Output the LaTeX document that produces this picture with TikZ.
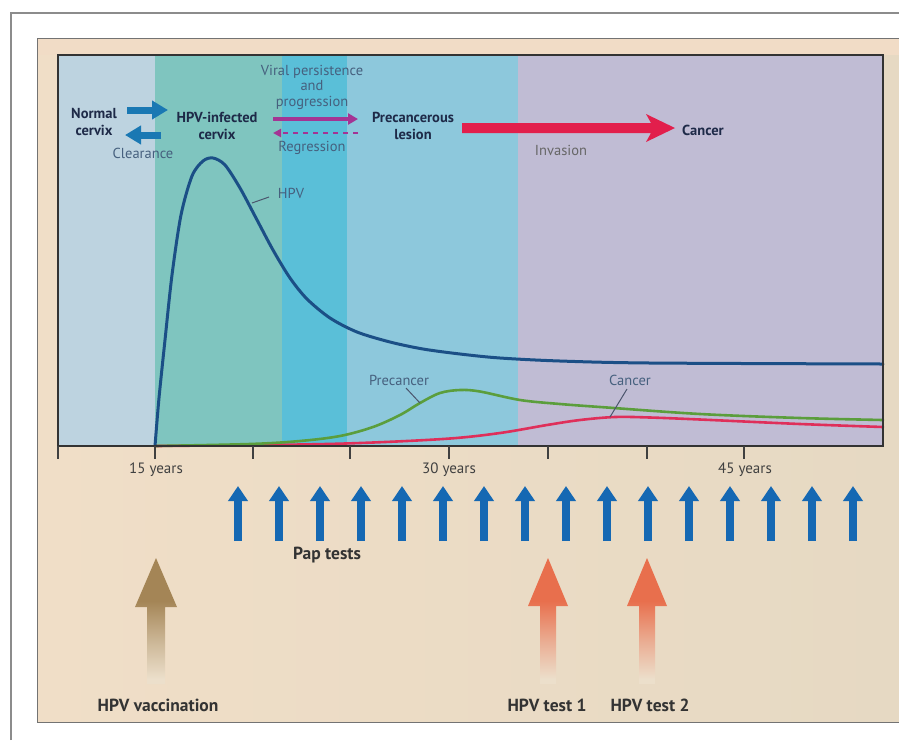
\documentclass[tikz,border=0pt]{standalone}
\usepackage{fontspec}
\setmainfont{PT Sans}
\usetikzlibrary{arrows.meta}
\definecolor{bandA}{HTML}{BDD3E0}
\definecolor{bandB}{HTML}{7FC5BF}
\definecolor{bandC}{HTML}{5ABFD8}
\definecolor{bandD}{HTML}{8DC8DC}
\definecolor{bandE}{HTML}{C0BCD4}
\definecolor{beigeL}{HTML}{F0DEC7}
\definecolor{beigeR}{HTML}{E6D9C3}
\definecolor{beigeT}{HTML}{F1DCC6}
\definecolor{hpvblue}{HTML}{1B4F86}
\definecolor{precgreen}{HTML}{5B9E3C}
\definecolor{cancred}{HTML}{DF2F5A}
\definecolor{papblue}{HTML}{1568B3}
\definecolor{topblue}{HTML}{1A78B3}
\definecolor{magarrow}{HTML}{A43494}
\definecolor{redarrow}{HTML}{E21F4C}
\definecolor{softtext}{HTML}{46607E}
\definecolor{darktext}{HTML}{1E2A48}
\definecolor{vacc}{HTML}{A48556}
\definecolor{hpvtest}{HTML}{E86F4D}
\definecolor{fadebg}{HTML}{ECDFCB}
\pgfdeclareverticalshading{vaccfade}{100bp}{color(0bp)=(fadebg); color(27bp)=(fadebg); color(42bp)=(vacc!45!fadebg); color(58bp)=(vacc); color(100bp)=(vacc)}
\pgfdeclareverticalshading{testfade}{100bp}{color(0bp)=(fadebg); color(27bp)=(fadebg); color(42bp)=(hpvtest!45!fadebg); color(58bp)=(hpvtest); color(100bp)=(hpvtest)}
\begin{document}
\begin{tikzpicture}[x=1pt,y=-1pt,
  boldlbl/.style={font=\bfseries\fontsize{14.5}{17.5}\selectfont, text=darktext, align=center, inner sep=0pt},
  softlbl/.style={font=\fontsize{14.5}{15.5}\selectfont, text=softtext, align=center, inner sep=0pt},
  ticklbl/.style={font=\fontsize{15}{17}\selectfont, text=black!75, inner sep=0pt},
  bottomlbl/.style={font=\bfseries\fontsize{17.5}{20}\selectfont, text=black!80, inner sep=0pt},
  curve/.style={line width=2.6pt, line cap=round},
  leader/.style={line width=1pt, draw=darktext!80},
  papstyle/.style={line width=8pt, draw=papblue, -{Triangle[length=15pt,width=19pt]}}
]
\useasboundingbox (0,0) rectangle (899,740);
\fill[white] (0,0) rectangle (899,740);
% outer frame
\draw[black!45, line width=1.2pt] (11,740) -- (11,13) -- (899,13);
% beige panel
\shade[left color=beigeL, right color=beigeR] (37,38) rectangle (899,722);
\fill[beigeT] (37,38) rectangle (899,55);
\draw[black!55, line width=1pt] (899,38) -- (37,38) -- (37,722) -- (899,722);
% bands
\fill[bandA] (58,55) rectangle (155,446);
\fill[bandB] (155,55) rectangle (282,446);
\fill[bandC] (282,55) rectangle (347,446);
\fill[bandD] (347,55) rectangle (518,446);
\fill[bandE] (518,55) rectangle (883,446);
% curves
\draw[curve, draw=cancred] plot[smooth, tension=0.55] coordinates {(155,446) (300,444.5) (373,442.5) (450,438.5) (500,433) (547,425) (580,420) (615,417) (650,417.5) (700,419.5) (800,424) (883,427)};
\draw[curve, draw=precgreen] plot[smooth, tension=0.55] coordinates {(155,446) (250,444) (300,441) (340,436) (373,427) (400,415) (420,403) (440,393) (460,390) (480,391.5) (520,400) (560,404) (607,407.5) (700,414) (800,418) (883,420)};
\draw[curve, line width=3pt, draw=hpvblue] plot[smooth, tension=0.5] coordinates {(155,446) (159,398) (165,340) (172,275) (181,215) (192,176) (203,161) (213,158) (225,165) (240,188) (256,218) (273,250) (290,278) (307,299) (330,318) (357,332) (390,342) (423,349) (460,354) (500,358) (560,361) (650,363) (883,364)};
% chart frame
\draw[black!80, line width=1.4pt] (58,55) rectangle (883,446);
% ticks
\foreach \x in {58,155,253,350,449,548,647,744} \draw[black!75, line width=1.4pt] (\x,446) -- (\x,459);
\node[ticklbl] (t15) at (156,470) {15 years};
\node[ticklbl] (t30) at (449,470) {30 years};
\node[ticklbl] (t45) at (745,470) {45 years};
% curve labels
\node[softlbl] (lhpv) at (291,193) {HPV};
\draw[leader] (252,203) -- (269,197);
\node[softlbl] (lprec) at (399,380) {Precancer};
\draw[leader] (406,388) -- (420,403);
\node[softlbl] (lcanc) at (630,380) {Cancer};
\draw[leader] (627,389) -- (610,417);
% top labels
\node[boldlbl] (normal) at (94,122) {Normal\\cervix};
\node[boldlbl] (infected) at (217,126) {HPV-infected\\cervix};
\node[boldlbl] (lesion) at (413,126) {Precancerous\\lesion};
\node[boldlbl, anchor=west] (cancer) at (682,130) {Cancer};
\node[softlbl] (clear) at (143,153) {Clearance};
\node[softlbl] (viral) at (312,87) {Viral persistence\\and\\progression};
\node[softlbl] (regr) at (312,148) {Regression};
\node[softlbl, text=black!60] (inv) at (561,150) {Invasion};
% top arrows
\draw[line width=7pt, draw=topblue, -{Triangle[length=16pt,width=18pt]}] (127,110) -- (168,110);
\draw[line width=7pt, draw=topblue, -{Triangle[length=16pt,width=18pt]}] (161,135) -- (125,135);
\draw[line width=4pt, draw=magarrow, -{Triangle[length=10pt,width=11pt]}] (273,119) -- (358,119);
\draw[line width=2.5pt, draw=magarrow, dash pattern=on 5pt off 5pt, -{Triangle[length=8pt,width=8pt]}] (358,133) -- (273,133);
\fill[redarrow] (462,123) -- (651,123) -- (646,114) -- (675,128) -- (646,142) -- (651,133) -- (462,133) -- cycle;
% pap tests
\foreach \x in {238,279,320,361,402,443,484,525,566,607,648,689,730,771,812,853}
  \draw[papstyle] (\x,541) -- (\x,486);
\node[bottomlbl] (pap) at (327,555) {Pap tests};
% vaccination / HPV tests
\shade[shading=vaccfade] (156,558) -- (177,607) -- (165,607) -- (165,684) -- (147,684) -- (147,607) -- (135,607) -- cycle;
\shade[shading=testfade] (548,558) -- (568,606) -- (556,606) -- (556,684) -- (540,684) -- (540,606) -- (528,606) -- cycle;
\shade[shading=testfade] (647,558) -- (667,606) -- (655,606) -- (655,684) -- (639,684) -- (639,606) -- (627,606) -- cycle;
\node[bottomlbl] (vac) at (158,705) {HPV vaccination};
\node[bottomlbl] (test1) at (547,705) {HPV test 1};
\node[bottomlbl] (test2) at (650,705) {HPV test 2};
\end{tikzpicture}
\end{document}
